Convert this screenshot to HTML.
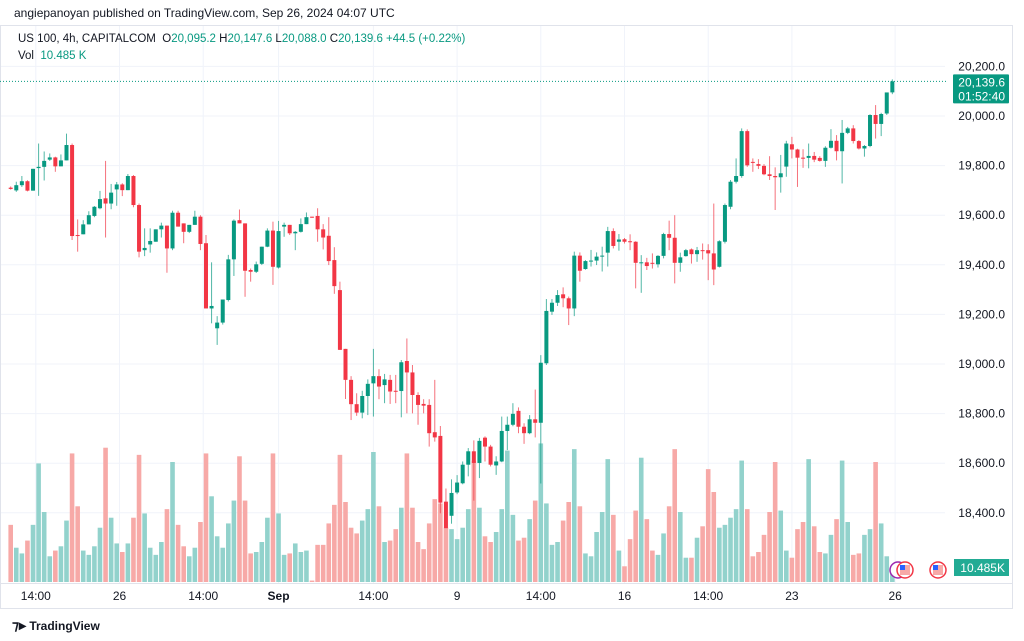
<!DOCTYPE html>
<html><head><meta charset="utf-8">
<style>
body{margin:0;background:#fff;width:1024px;height:641px;overflow:hidden;font-family:"Liberation Sans",sans-serif;}
#hdr{position:absolute;left:14px;top:6px;font-size:12px;color:#131722;}
#leg1{position:absolute;left:18px;top:33px;font-size:11.5px;color:#131722;}
#leg2{position:absolute;left:18px;top:50px;font-size:11.5px;color:#131722;}
.g{color:#089981}
#foot{position:absolute;left:12px;top:617px;font-size:12px;color:#131722;font-weight:bold;}
svg{position:absolute;left:0;top:0;}
</style></head><body>
<div id="hdr">angiepanoyan published on TradingView.com, Sep 26, 2024 04:07 UTC</div>
<svg id="ch" width="1024" height="641"></svg>
<div id="leg1">US 100, 4h, CAPITALCOM &nbsp;O<span class="g">20,095.2</span> H<span class="g">20,147.6</span> L<span class="g">20,088.0</span> C<span class="g">20,139.6</span> <span class="g">+44.5 (+0.22%)</span></div>
<div id="leg2">Vol &nbsp;<span class="g">10.485 K</span></div>
<div id="foot"><span style="font-size:14px">⁊▸</span> TradingView</div>
<script>
const opens=[19711,19700,19721,19737,19699,19790,19795,19824,19833,19797,19821,19883,19520,19523,19563,19597,19628,19668,19647,19704,19724,19701,19758,19641,19459,19482,19493,19543,19558,19466,19610,19567,19533,19561,19594,19487,19224,19144,19167,19258,19422,19580,19567,19379,19372,19404,19473,19538,19389,19554,19561,19527,19533,19564,19594,19597,19543,19517,19419,19298,19061,18936,18838,18804,18871,18922,18951,18915,18936,18892,18891,19012,18966,18875,18839,18835,18725,18710,18445,18388,18482,18519,18594,18648,18601,18703,18667,18591,18607,18730,18755,18811,18747,18721,18777,18763,19003,19211,19247,19281,19265,19224,19437,19383,19415,19417,19433,19449,19536,19493,19503,19495,19493,19408,19410,19408,19402,19436,19524,19509,19408,19435,19462,19443,19459,19459,19446,19392,19493,19634,19735,19758,19939,19815,19806,19799,19765,19758,19753,19796,19886,19865,19832,19831,19839,19831,19819,19872,19900,19858,19932,19950,19899,19869,19879,20004,19968,20010,20095.2];
const highs=[19716,19735,19758,19741,19787,19889,19857,19849,19836,19845,19929,19889,19583,19580,19616,19637,19698,19819,19726,19734,19729,19766,19762,19647,19547,19547,19543,19570,19558,19618,19618,19567,19561,19618,19600,19520,19410,19193,19260,19440,19583,19623,19567,19385,19413,19473,19547,19574,19577,19570,19561,19536,19587,19611,19594,19628,19564,19592,19471,19332,19061,18951,18882,18892,18938,19061,18979,18960,18956,18956,19016,19103,18996,18886,18858,18858,18936,18750,18498,18535,18552,18607,18661,18692,18702,18708,18674,18628,18788,18788,18842,18825,18761,18794,18897,19036,19262,19262,19298,19309,19272,19453,19450,19419,19460,19450,19473,19553,19547,19524,19508,19523,19495,19439,19428,19446,19439,19529,19578,19600,19449,19464,19466,19472,19486,19483,19647,19499,19647,19742,19829,19950,19946,19829,19826,19806,19838,19793,19843,19900,19916,19868,19866,19889,19855,19838,19878,19947,19923,19984,19956,19963,19903,19883,20007,20044,20013,20091,20147.6];
const lows=[19703,19694,19714,19696,19699,19678,19740,19819,19775,19797,19821,19500,19453,19523,19563,19592,19624,19510,19624,19638,19677,19701,19632,19430,19435,19449,19493,19510,19368,19459,19554,19487,19528,19561,19459,19224,19164,19077,19159,19252,19355,19567,19271,19332,19367,19399,19471,19319,19385,19513,19520,19459,19530,19564,19589,19493,19462,19399,19283,19057,18859,18774,18791,18781,18794,18788,18858,18842,18839,18842,18785,18801,18801,18755,18801,18667,18687,18398,18351,18356,18475,18515,18547,18449,18540,18607,18587,18553,18604,18653,18749,18721,18678,18717,18704,18518,18996,19198,19234,19229,19157,19193,19332,19380,19393,19399,19373,19393,19466,19457,19486,19459,19305,19287,19379,19385,19389,19426,19459,19325,19372,19433,19405,19412,19421,19338,19318,19389,19486,19624,19728,19751,19795,19775,19786,19761,19742,19621,19691,19755,19829,19714,19791,19789,19814,19816,19795,19869,19821,19728,19927,19889,19865,19836,19874,19909,19919,20004,20088.0];
const closes=[19706,19721,19737,19699,19787,19795,19819,19833,19797,19821,19883,19516,19518,19563,19600,19634,19665,19647,19691,19724,19701,19758,19641,19453,19468,19496,19543,19558,19466,19610,19554,19533,19561,19594,19484,19224,19234,19167,19260,19422,19578,19567,19376,19372,19402,19473,19538,19392,19536,19561,19527,19533,19564,19592,19592,19543,19510,19415,19314,19057,18936,18838,18804,18871,18920,18951,18909,18938,18889,18890,19007,18966,18875,18835,18832,18721,18704,18441,18338,18480,18522,18594,18648,18601,18690,18667,18594,18607,18730,18755,18799,18747,18721,18777,18763,19005,19214,19247,19278,19265,19224,19437,19376,19415,19417,19433,19437,19536,19476,19502,19493,19493,19408,19410,19395,19405,19436,19524,19509,19408,19430,19459,19443,19459,19456,19446,19381,19495,19641,19735,19758,19939,19801,19812,19799,19765,19758,19753,19769,19889,19865,19832,19831,19839,19824,19819,19872,19900,19858,19932,19950,19899,19869,19879,20004,19968,20008,20095,20139.6];
const volumes=[40,24,20,29,40,83,49,18,22,25,43,90,53,22,19,25,38,94,45,27,21,27,45,89,48,24,19,28,51,84,40,25,18,24,42,90,60,32,24,41,57,88,57,20,21,28,45,90,48,19,20,27,21,22,1,26,26,41,54,89,56,38,34,43,51,91,53,28,29,37,52,90,52,28,23,41,58,55,38,37,30,38,51,85,52,32,28,35,51,92,47,29,31,44,57,97,55,26,28,43,56,93,53,20,18,35,49,86,47,22,11,30,50,87,44,22,19,34,53,93,49,17,17,31,39,79,63,38,40,45,51,85,51,18,21,33,49,84,50,22,17,37,42,86,39,21,20,33,44,85,42,19,20,33,37,84,41,18,10.485];
const priceTicks=[18400,18600,18800,19000,19200,19400,19600,19800,20000,20200];
const timeLabels=["14:00","26","14:00","Sep","14:00","9","14:00","16","14:00","23","26"];
const timeIdx=[4.5,19.5,34.5,48,65,80,95,110,125,140,158.5];

const svg=document.getElementById('ch');
const NS='http://www.w3.org/2000/svg';
function el(t,a,p){const e=document.createElementNS(NS,t);for(const k in a)e.setAttribute(k,a[k]);(p||svg).appendChild(e);return e;}
const yP=p=>364-(p-19000)*0.248;
const xI=i=>10.7+i*5.58;
const yV=v=>582-v/0.7;
const GREEN='#089981',RED='#f23645';
// frame
const fr=el('rect',{x:0.5,y:25.5,width:1012,height:583,fill:'none',stroke:'#e0e3eb'});


el('line',{x1:0,x2:1013,y1:583.5,y2:583.5,stroke:'#e0e3eb'});
// grid
priceTicks.forEach(p=>{
  const g=el('line',{x1:1,x2:945,y1:yP(p),y2:yP(p),stroke:'#f0f3fa'});
  
  
  const t=el('text',{x:1005,y:yP(p)+4,'text-anchor':'end','font-size':12,fill:'#131722'});
  t.textContent=p.toLocaleString('en-US')+'.0';
  
  
});
timeLabels.forEach((l,k)=>{
  const x=xI(timeIdx[k]);
  const g=el('line',{x1:x,x2:x,y1:26,y2:583,stroke:'#f0f3fa'});
  
  
  const t=el('text',{x:x,y:600,'text-anchor':'middle','font-size':12,fill:'#131722','font-weight':l==='Sep'?'bold':'normal'});
  t.textContent=l;
  
  
});
// volume
volumes.forEach((v,i)=>{
  const up=closes[i]>=opens[i];
  const r=el('rect',{x:xI(i)-2.3,y:yV(v),width:4.6,height:582-yV(v),fill:up?'#92d2cc':'#f7a9a7'});
  
  
});
// candles
closes.forEach((c,i)=>{
  const o=opens[i],up=c>=o,col=up?GREEN:RED,x=xI(i);
  const w=el('line',{x1:x,x2:x,y1:yP(highs[i]),y2:yP(lows[i]),stroke:col,'stroke-width':1,opacity:0.7});
  
  
  const t=Math.min(yP(o),yP(c)),h=Math.max(1,Math.abs(yP(o)-yP(c)));
  const b=el('rect',{x:x-2,y:t,width:4,height:h,fill:col});
  
  
});
// last price line
const lp=closes[closes.length-1];
const dl=el('line',{x1:0,x2:948,y1:yP(lp),y2:yP(lp),stroke:GREEN,'stroke-dasharray':'1 2','stroke-width':1});


const pb=el('rect',{x:953,y:yP(lp)-7,width:56,height:29,fill:GREEN,rx:1});


const pt=el('text',{x:1005,y:yP(lp)+5,'text-anchor':'end','font-size':12,fill:'#fff'});
pt.textContent='20,139.6';


const ct=el('text',{x:1005,y:yP(lp)+19,'text-anchor':'end','font-size':12,fill:'#fff'});
ct.textContent='01:52:40';


const vb=el('rect',{x:954,y:559,width:55,height:17,fill:'#22ab94'});


const vt=el('text',{x:1005,y:572,'text-anchor':'end','font-size':12,fill:'#fff'});
vt.textContent='10.485K';


// event icons
[[898,'#9c27b0'],[905,'#f23645'],[938,'#f23645']].forEach(([cx,c])=>{
  const ic=el('circle',{cx:cx,cy:570,r:8,fill:'#fff',stroke:c,'stroke-width':1.5});
  
  
  if(c!=='#9c27b0'){el('rect',{x:cx-5,y:565,width:10,height:10,fill:'#f7a9a7'});el('rect',{x:cx-5,y:565,width:5,height:5,fill:'#2962ff'});}
});
</script>
</body></html>
